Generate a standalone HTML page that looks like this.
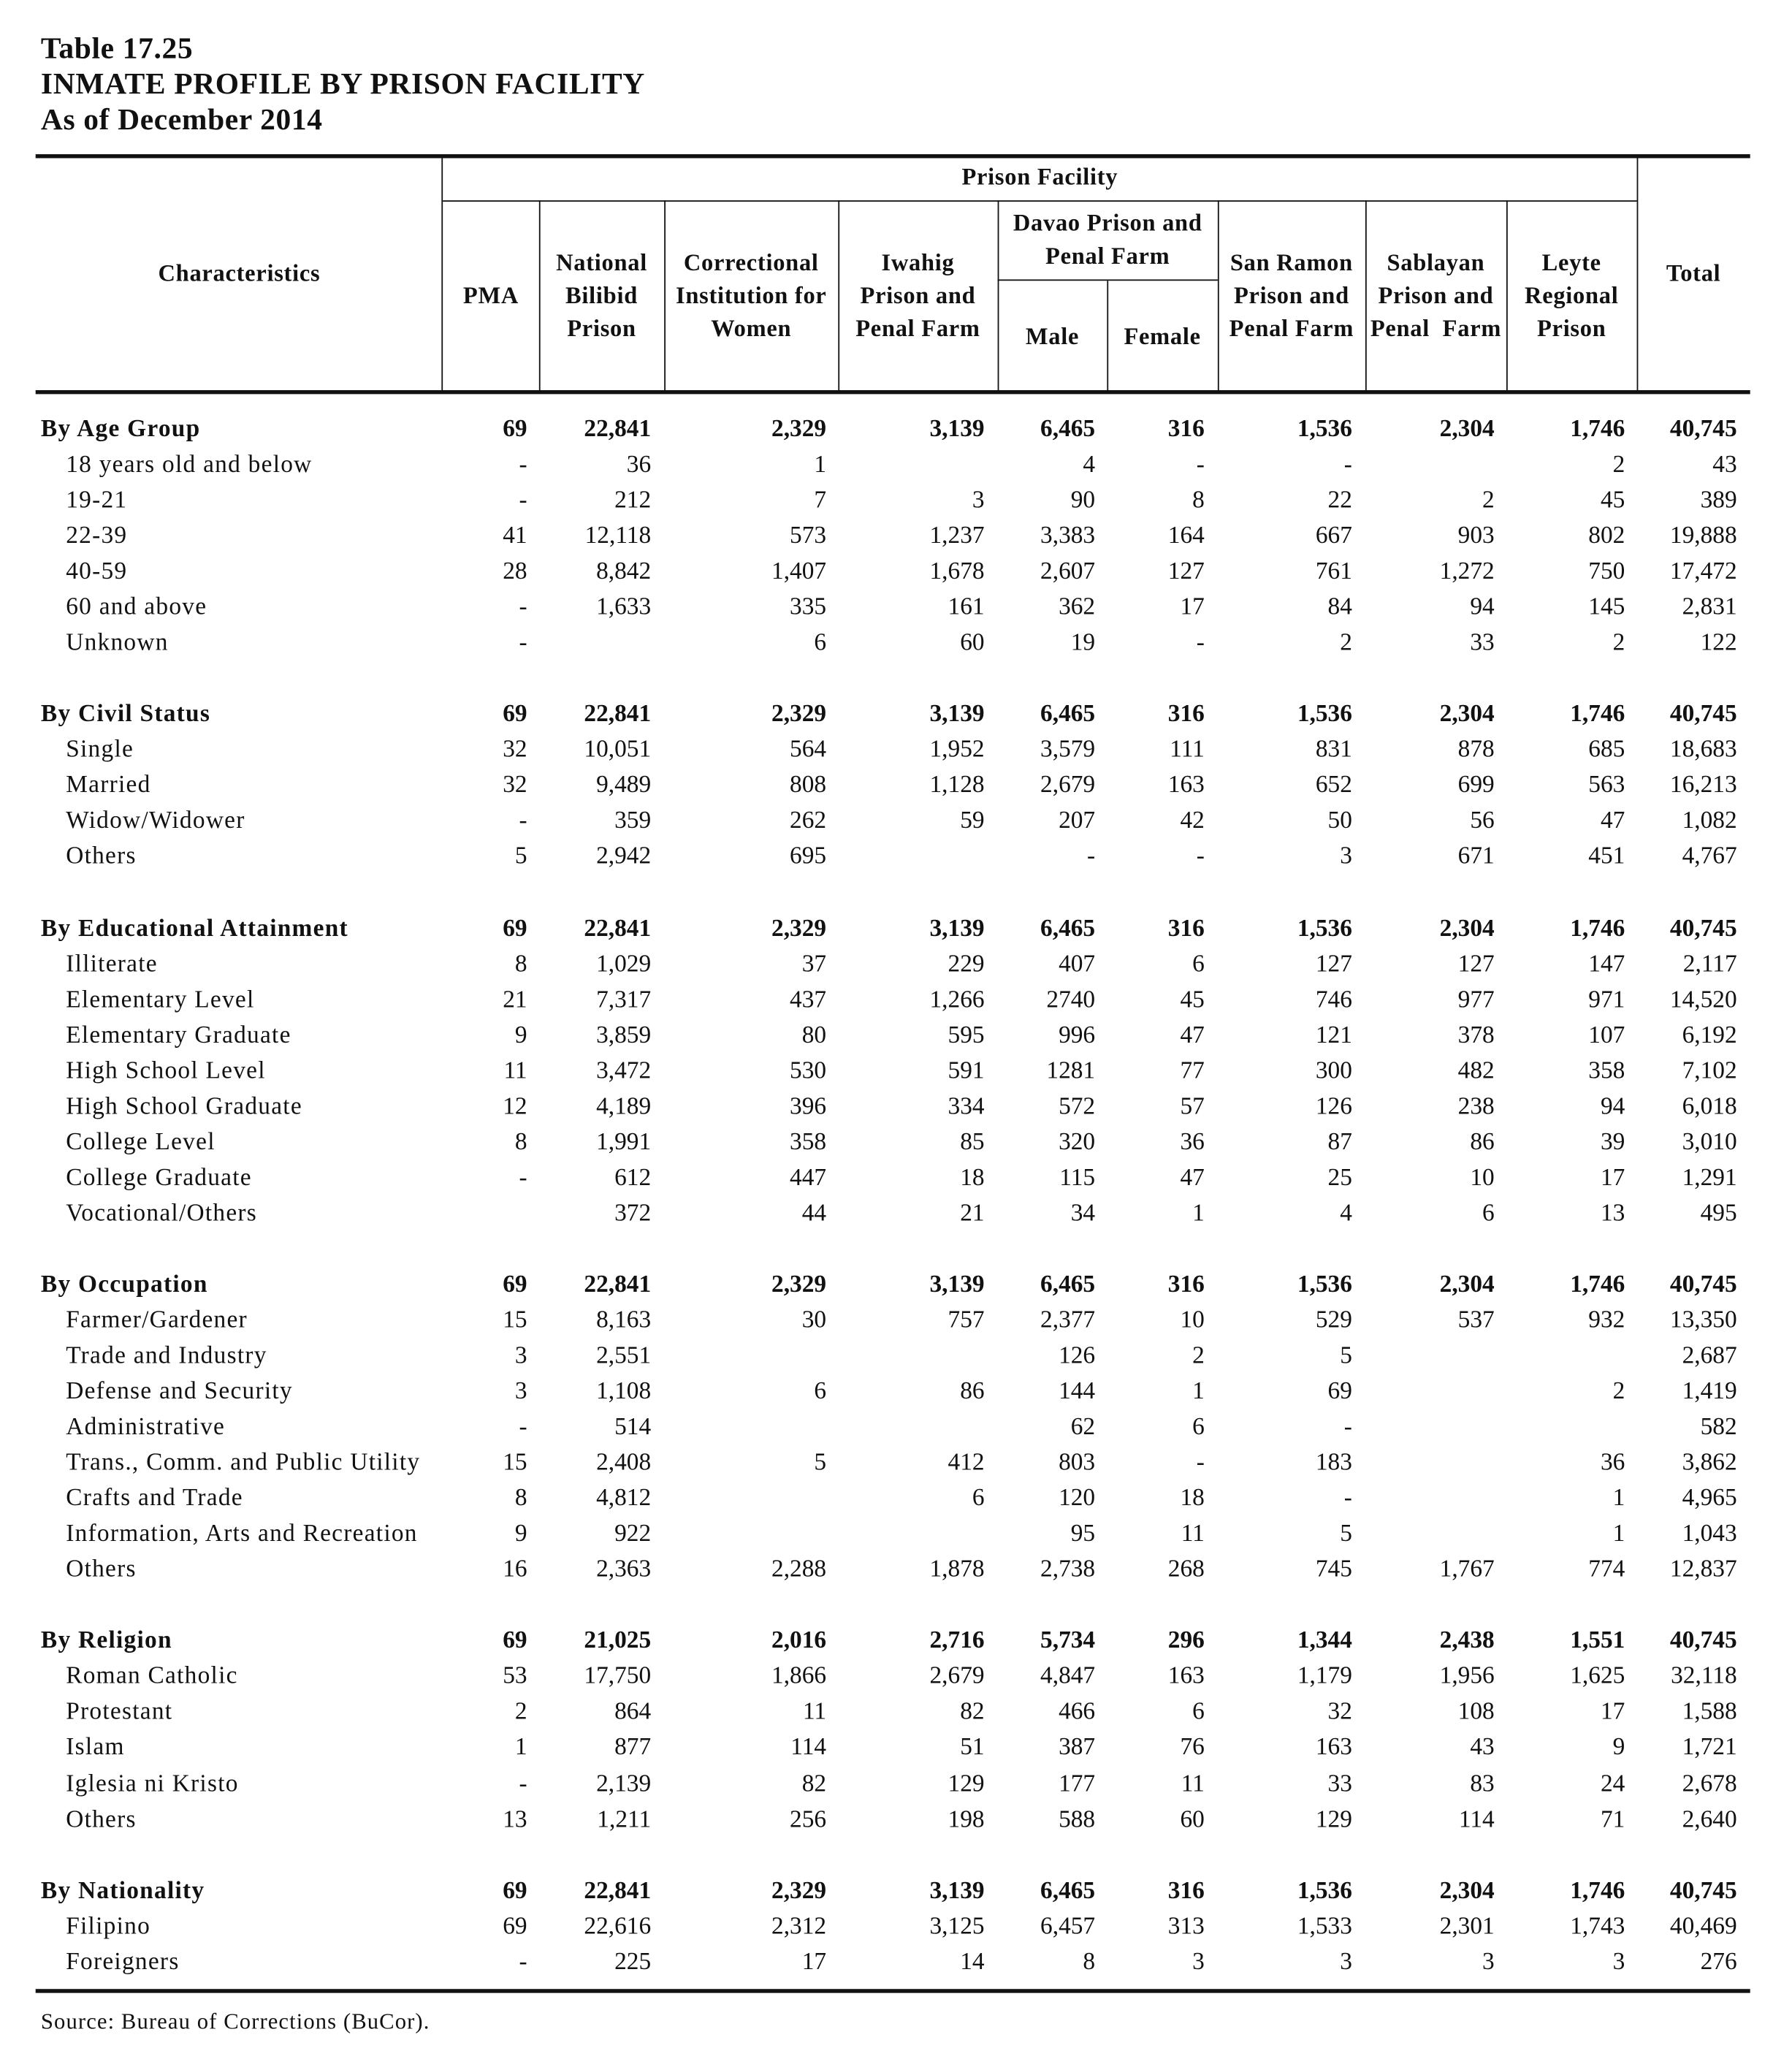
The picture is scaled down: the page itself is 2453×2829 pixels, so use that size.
<!DOCTYPE html>
<html><head><meta charset="utf-8">
<style>
html,body{margin:0;padding:0;background:#fff;}
body{width:2453px;height:2829px;overflow:hidden;position:relative;}
#wrap{position:absolute;left:0;top:0;width:1357px;height:1565px;transform:scale(1.804);transform-origin:0 0;font-family:"Liberation Serif",serif;color:#111;}
.t{position:absolute;white-space:nowrap;}
.title{font-weight:bold;font-size:23px;left:31px;letter-spacing:0.35px;}
.hl{position:absolute;background:#111;}
.h{position:absolute;font-weight:bold;font-size:18px;line-height:25px;text-align:center;letter-spacing:0.4px;}
.c{position:absolute;font-size:18.5px;white-space:nowrap;line-height:20px;}
.lab{letter-spacing:0.7px;}
.b{font-weight:bold;}
</style></head><body>
<div id="wrap">
<div class="t title" style="top:24px">Table 17.25</div>
<div class="t title" style="top:51px">INMATE PROFILE BY PRISON FACILITY</div>
<div class="t title" style="top:78px">As of December 2014</div>

<div class="hl" style="left:27px;top:117px;width:1301px;height:2.5px"></div>
<div class="hl" style="left:336px;top:152px;width:906px;height:1px"></div>
<div class="hl" style="left:757px;top:212px;width:167px;height:1px"></div>
<div class="hl" style="left:27px;top:296px;width:1301px;height:2.5px"></div>
<div class="hl" style="left:27px;top:1509px;width:1301px;height:2.5px"></div>

<div class="hl" style="left:335px;top:119px;width:1px;height:178px"></div>
<div class="hl" style="left:1242px;top:119px;width:1px;height:178px"></div>
<div class="hl" style="left:409px;top:152px;width:1px;height:145px"></div>
<div class="hl" style="left:504px;top:152px;width:1px;height:145px"></div>
<div class="hl" style="left:636px;top:152px;width:1px;height:145px"></div>
<div class="hl" style="left:757px;top:152px;width:1px;height:145px"></div>
<div class="hl" style="left:840px;top:213px;width:1px;height:84px"></div>
<div class="hl" style="left:924px;top:152px;width:1px;height:145px"></div>
<div class="hl" style="left:1036px;top:152px;width:1px;height:145px"></div>
<div class="hl" style="left:1143px;top:152px;width:1px;height:145px"></div>

<div class="h" style="left:27px;width:309px;top:195px">Characteristics</div>
<div class="h" style="left:336px;width:906px;top:122px">Prison Facility</div>
<div class="h" style="left:336px;width:73px;top:212px">PMA</div>
<div class="h" style="left:409px;width:95px;top:187px">National<br>Bilibid<br>Prison</div>
<div class="h" style="left:504px;width:132px;top:187px">Correctional<br>Institution for<br>Women</div>
<div class="h" style="left:636px;width:121px;top:187px">Iwahig<br>Prison and<br>Penal Farm</div>
<div class="h" style="left:757px;width:167px;top:157px">Davao Prison and<br>Penal Farm</div>
<div class="h" style="left:757px;width:83px;top:243px">Male</div>
<div class="h" style="left:840px;width:84px;top:243px">Female</div>
<div class="h" style="left:924px;width:112px;top:187px">San Ramon<br>Prison and<br>Penal Farm</div>
<div class="h" style="left:1036px;width:107px;top:187px">Sablayan<br>Prison and<br>Penal&nbsp; Farm</div>
<div class="h" style="left:1143px;width:99px;top:187px">Leyte<br>Regional<br>Prison</div>
<div class="h" style="left:1242px;width:86px;top:195px">Total</div>

<div class="t" style="left:31px;top:1524px;font-size:17px;letter-spacing:0.6px">Source: Bureau of Corrections (BuCor).</div>
<div id="rows"></div>
</div>
<script>
const colRights=[400,494,627,747,831,914,1026,1134,1233,1318];
const ageLabels=["By Age Group","18 years old and below","19-21","22-39","40-59","60 and above","Unknown"];
const ageValues=[
["69","22,841","2,329","3,139","6,465","316","1,536","2,304","1,746","40,745"],
["-","36","1","","4","-","-","","2","43"],
["-","212","7","3","90","8","22","2","45","389"],
["41","12,118","573","1,237","3,383","164","667","903","802","19,888"],
["28","8,842","1,407","1,678","2,607","127","761","1,272","750","17,472"],
["-","1,633","335","161","362","17","84","94","145","2,831"],
["-","","6","60","19","-","2","33","2","122"]];
const civilLabels=["By Civil Status","Single","Married","Widow/Widower","Others"];
const civilValues=[
["69","22,841","2,329","3,139","6,465","316","1,536","2,304","1,746","40,745"],
["32","10,051","564","1,952","3,579","111","831","878","685","18,683"],
["32","9,489","808","1,128","2,679","163","652","699","563","16,213"],
["-","359","262","59","207","42","50","56","47","1,082"],
["5","2,942","695","","-","-","3","671","451","4,767"]];
const eduLabels=["By Educational Attainment","Illiterate","Elementary Level","Elementary Graduate","High School Level","High School Graduate","College Level","College Graduate","Vocational/Others"];
const eduValues=[
["69","22,841","2,329","3,139","6,465","316","1,536","2,304","1,746","40,745"],
["8","1,029","37","229","407","6","127","127","147","2,117"],
["21","7,317","437","1,266","2740","45","746","977","971","14,520"],
["9","3,859","80","595","996","47","121","378","107","6,192"],
["11","3,472","530","591","1281","77","300","482","358","7,102"],
["12","4,189","396","334","572","57","126","238","94","6,018"],
["8","1,991","358","85","320","36","87","86","39","3,010"],
["-","612","447","18","115","47","25","10","17","1,291"],
["","372","44","21","34","1","4","6","13","495"]];
const occLabels=["By Occupation","Farmer/Gardener","Trade and Industry","Defense and Security","Administrative","Trans., Comm. and Public Utility","Crafts and Trade","Information, Arts and Recreation","Others"];
const occValues=[
["69","22,841","2,329","3,139","6,465","316","1,536","2,304","1,746","40,745"],
["15","8,163","30","757","2,377","10","529","537","932","13,350"],
["3","2,551","","","126","2","5","","","2,687"],
["3","1,108","6","86","144","1","69","","2","1,419"],
["-","514","","","62","6","-","","","582"],
["15","2,408","5","412","803","-","183","","36","3,862"],
["8","4,812","","6","120","18","-","","1","4,965"],
["9","922","","","95","11","5","","1","1,043"],
["16","2,363","2,288","1,878","2,738","268","745","1,767","774","12,837"]];
const relLabels=["By Religion","Roman Catholic","Protestant","Islam","Iglesia ni Kristo","Others"];
const relValues=[
["69","21,025","2,016","2,716","5,734","296","1,344","2,438","1,551","40,745"],
["53","17,750","1,866","2,679","4,847","163","1,179","1,956","1,625","32,118"],
["2","864","11","82","466","6","32","108","17","1,588"],
["1","877","114","51","387","76","163","43","9","1,721"],
["-","2,139","82","129","177","11","33","83","24","2,678"],
["13","1,211","256","198","588","60","129","114","71","2,640"]];
const natLabels=["By Nationality","Filipino","Foreigners"];
const natValues=[
["69","22,841","2,329","3,139","6,465","316","1,536","2,304","1,746","40,745"],
["69","22,616","2,312","3,125","6,457","313","1,533","2,301","1,743","40,469"],
["-","225","17","14","8","3","3","3","3","276"]];
const groups=[[ageLabels,ageValues],[civilLabels,civilValues],[eduLabels,eduValues],[occLabels,occValues],[relLabels,relValues],[natLabels,natValues]];
const root=document.getElementById('rows');
let r=0;
const y0=326,rowH=27.04;
groups.forEach((g,gi)=>{
  g[0].forEach((lab,i)=>{
    const y=y0+r*rowH-10;
    const l=document.createElement('div');
    l.className='c lab'+(i===0?' b':'');
    l.style.left=(i===0?31:50)+'px';
    l.style.top=y+'px';
    l.textContent=lab;
    
    
    root.appendChild(l);
    g[1][i].forEach((v,ci)=>{
      if(v==='')return;
      const d=document.createElement('div');
      d.className='c'+(i===0?' b':'');
      d.style.right=(1357-colRights[ci])+'px';
      d.style.top=y+'px';
      d.textContent=v;
      
      
      root.appendChild(d);
    });
    r++;
  });
  r++;
});
</script>
</body></html>
